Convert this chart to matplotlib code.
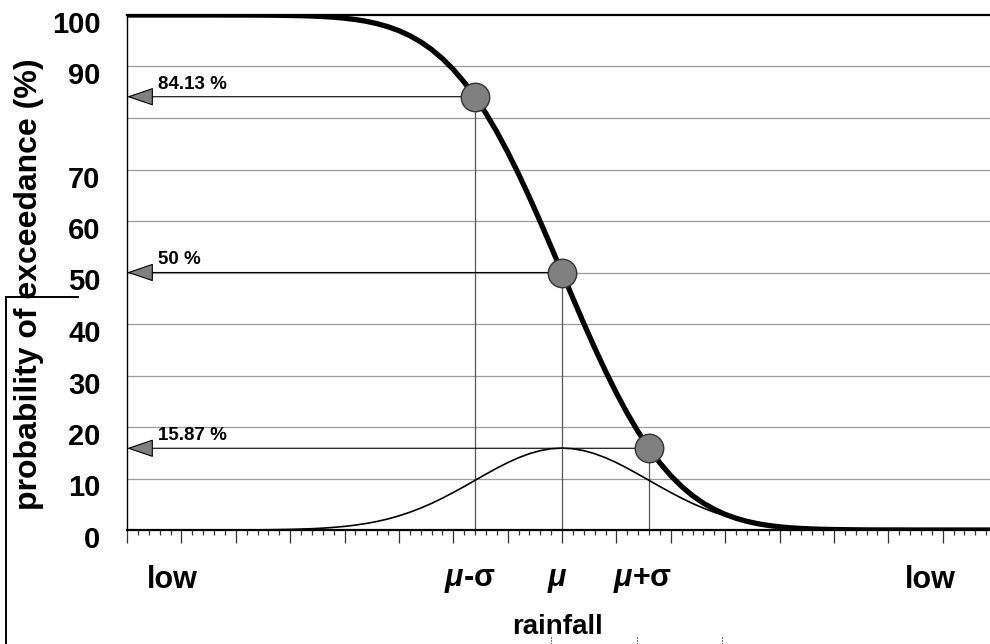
"""Exceedance probability curve for rainfall (normal distribution)"""

import numpy as np
import matplotlib
matplotlib.use("Agg")
import matplotlib.pyplot as plt
from matplotlib.lines import Line2D
from matplotlib.transforms import ScaledTranslation, blended_transform_factory

plt.rcParams["font.family"] = ["Liberation Sans", "DejaVu Sans"]
plt.rcParams["mathtext.fontset"] = "custom"
plt.rcParams["mathtext.it"] = "Liberation Sans:italic:bold"
plt.rcParams["mathtext.rm"] = "Liberation Sans:bold"

# rainfall categories in units of sigma from the mean (-5 .. 5, step 1/8)
rainfall_sigma = np.linspace(-5, 5, 81)

# probability of exceedance (%)
exceedance = [
    100.00, 100.00, 100.00, 100.00, 100.00, 100.00, 100.00, 100.00, 100.00,
    99.99, 99.99, 99.99, 99.98, 99.96, 99.94, 99.91, 99.87, 99.80, 99.70,
    99.57, 99.38, 99.12, 98.78, 98.32, 97.72, 96.96, 95.99, 94.79, 93.32,
    91.54, 89.44, 86.97, 84.13, 80.92, 77.34, 73.40, 69.15, 64.62, 59.87,
    54.97, 50.00, 45.03, 40.13, 35.38, 30.85, 26.60, 22.66, 19.08, 15.87,
    13.03, 10.56, 8.46, 6.68, 5.21, 4.01, 3.04, 2.28, 1.68, 1.22,
    0.88, 0.62, 0.43, 0.30, 0.20, 0.13, 0.09, 0.06, 0.04, 0.02,
    0.01, 0.01, 0.01, 0.00, 0.00, 0.00, 0.00, 0.00, 0.00, 0.00,
    0.00, 0.00,
]

# bell curve (thin line), scaled so its peak sits at the 15.87 % line
density = [
    0.00, 0.00, 0.00, 0.00, 0.00, 0.00, 0.00, 0.00, 0.00,
    0.01, 0.01, 0.02, 0.03, 0.05, 0.08, 0.12, 0.18, 0.25, 0.36,
    0.51, 0.70, 0.95, 1.27, 1.66, 2.15, 2.74, 3.44, 4.25, 5.16,
    6.18, 7.28, 8.44, 9.64, 10.84, 12.00, 13.08, 14.03, 14.82, 15.41,
    15.78, 15.90, 15.78, 15.41, 14.82, 14.03, 13.08, 12.00, 10.84, 9.64,
    8.44, 7.28, 6.18, 5.16, 4.25, 3.44, 2.74, 2.15, 1.66, 1.27,
    0.95, 0.70, 0.51, 0.36, 0.25, 0.18, 0.12, 0.08, 0.05, 0.03,
    0.02, 0.01, 0.01, 0.00, 0.00, 0.00, 0.00, 0.00, 0.00, 0.00,
    0.00, 0.00,
]

# highlighted points at mu - sigma, mu, mu + sigma
point_x = [-1.0, 0.0, 1.0]
point_y = [84.13, 50.00, 15.87]
point_labels = ["84.13 %", "50 %", "15.87 %"]

y_ticks = [0, 10, 20, 30, 40, 50, 60, 70, 90, 100]
grid_levels = [10, 20, 30, 40, 50, 60, 70, 80, 90]

x_label_pos = [-4.48, -1.06, -0.05, 0.93, 4.23]
x_label_text = ["low", r"$\mu$-σ", r"$\mu$", r"$\mu$+σ", "low"]

fig = plt.figure(figsize=(9.9, 6.44), dpi=100)
ax = fig.add_axes([127 / 990, 1 - 530 / 644, 870 / 990, 515 / 644])
ax.set_xlim(-5, 5)
ax.set_ylim(0, 100)

for level in grid_levels:
    ax.axhline(level, color="#9a9a9a", lw=0.9, zorder=1)

# drop lines and arrows back to the axis
for px, py, lab in zip(point_x, point_y, point_labels):
    ax.plot([px, px], [0, py], color="#555555", lw=0.9, zorder=2)
    ax.annotate(
        "",
        xy=(-5, py),
        xytext=(px, py),
        arrowprops=dict(
            arrowstyle="-|>,head_length=1.7,head_width=0.58",
            mutation_scale=10,
            fc="#808080",
            ec="black",
            lw=0.8,
            shrinkA=0,
            shrinkB=0,
        ),
        zorder=3,
    )
    ax.annotate(
        lab,
        xy=(-5, py),
        xytext=(22, 3),
        textcoords="offset points",
        fontsize=13.5,
        fontweight="bold",
        va="bottom",
        zorder=4,
    )

ax.plot(rainfall_sigma, density, color="black", lw=1.2, zorder=4)
ax.plot(rainfall_sigma, exceedance, color="black", lw=3.8, zorder=5,
        solid_capstyle="butt")
ax.plot(point_x, point_y, "o", ms=20.5, mfc="#808080", mec="#333333",
        mew=1.0, zorder=6)

# axes frame
for side in ["left", "top", "bottom"]:
    ax.spines[side].set_color("black")
ax.spines["left"].set_linewidth(1.0)
ax.spines["top"].set_linewidth(1.6)
ax.spines["bottom"].set_linewidth(1.6)
ax.spines["right"].set_visible(False)

ax.set_xticks(np.linspace(-5, 5, 17))
ax.set_xticks(rainfall_sigma, minor=True)
ax.tick_params(axis="x", which="major", direction="out", length=9.5,
               width=0.9, color="#333333", labelbottom=False)
ax.tick_params(axis="x", which="minor", direction="out", length=3.6,
               width=0.9, color="#333333")

ax.set_yticks(y_ticks, [str(v) for v in y_ticks])
ax.tick_params(axis="y", length=0, pad=19, labelsize=21)
shift = ScaledTranslation(0, -7 / 100, fig.dpi_scale_trans)
for lab in ax.get_yticklabels():
    lab.set_fontweight("bold")
    lab.set_transform(lab.get_transform() + shift)

trans = blended_transform_factory(ax.transData, ax.transAxes)
for xp, txt in zip(x_label_pos, x_label_text):
    ax.text(xp, -0.097, txt, transform=trans, ha="center", va="center",
            fontsize=22, fontweight="bold")

fig.text(558 / 990, 1 - 627 / 644, "rainfall", ha="center", va="center",
         fontsize=20, fontweight="bold")
fig.text(29 / 990, 1 - 284 / 644, "probability of exceedance (%)",
         rotation=90, ha="center", va="center", fontsize=23,
         fontweight="bold")

# stray bracket lines and dots from the original drawing
fig.add_artist(Line2D([6 / 990, 6 / 990], [0, 1 - 297 / 644],
                      color="black", lw=1.4))
fig.add_artist(Line2D([6 / 990, 78 / 990], [1 - 297 / 644, 1 - 297 / 644],
                      color="black", lw=1.4))
for dx in [551, 637, 722]:
    fig.add_artist(Line2D([dx / 990, dx / 990], [0, 8 / 644],
                          color="black", lw=0.8, ls=":"))

fig.savefig("out.png", dpi=100)
